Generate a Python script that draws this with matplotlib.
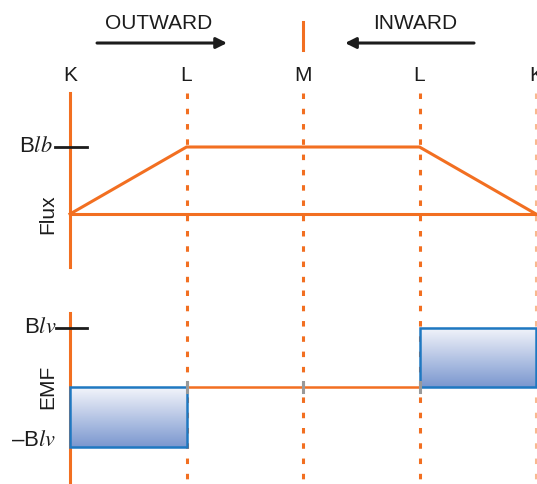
import numpy as np
import matplotlib.pyplot as plt
from matplotlib.patches import Rectangle
from matplotlib.colors import LinearSegmentedColormap

plt.rcParams['font.family'] = ['Liberation Sans', 'DejaVu Sans']
plt.rcParams['mathtext.fontset'] = 'stix'

# data
pos_x = [0, 1, 2, 3, 4]
pos_labels = ['K', 'L', 'M', 'L', 'K']
flux_x = [0, 1, 3, 4]
flux_y = [0, 1, 1, 0]
emf_segments = [(0, 1, -1), (1, 3, 0), (3, 4, 1)]  # x start, x end, EMF level

orange = '#f26f21'
blue_edge = '#1f78c1'
ink = '#1c1c1c'
fs = 15

fig = plt.figure(figsize=(5.37, 4.84), dpi=100)
ax1 = fig.add_axes([0, 194/484, 1, 290/484])
ax2 = fig.add_axes([0, 0, 1, 194/484])

xl = (-70/116.5, 4 + 1/116.5)
y1 = (-(290-214)/67, 214/67)
y2 = (-(484-387)/59.5, (387-290)/59.5)

# dotted lines
for x in pos_x[1:]:
    c = orange if x < 4 else '#f9b98f'
    ax1.plot([x, x], [1.806, y1[0]], color=c, lw=2.2, dashes=(1.8, 3.2), zorder=1)
    ax2.plot([x, x], [y2[1], y2[0]], color=c, lw=2.2, dashes=(1.8, 3.2), zorder=1)

# K solid lines
ax1.plot([0, 0], [1.806, -0.791], color=orange, lw=2.2)
ax2.plot([0, 0], [1.244, y2[0]], color=orange, lw=2.2)
# M marker
ax1.plot([2, 2], [2.866, 2.448], color=orange, lw=2.2)

# labels
for x, lab in zip(pos_x, pos_labels):
    ax1.text(x, 2.06, lab, ha='center', va='center', fontsize=fs, color=ink)

# arrows
ax1.annotate('', xy=(1.348, 2.552), xytext=(0.232, 2.552),
             arrowprops=dict(arrowstyle='-|>', color=ink, lw=2.2, mutation_scale=16,
                             shrinkA=0, shrinkB=0))
ax1.annotate('', xy=(2.361, 2.552), xytext=(3.468, 2.552),
             arrowprops=dict(arrowstyle='-|>', color=ink, lw=2.2, mutation_scale=16,
                             shrinkA=0, shrinkB=0))
ax1.text(0.76, 2.836, 'OUTWARD', ha='center', va='center', fontsize=fs, color=ink)
ax1.text(2.96, 2.836, 'INWARD', ha='center', va='center', fontsize=fs, color=ink)

# flux
ax1.plot([0, 4], [0, 0], color=orange, lw=2.2)
ax1.plot(flux_x, flux_y, color=orange, lw=2.2, solid_joinstyle='miter')
ax1.plot([-0.129, 0.146], [1, 1], color=ink, lw=2)
ax1.text(-0.15, 1, 'B$lb$', ha='right', va='center', fontsize=fs + 1, color=ink)
ax1.text(-0.19, 0, 'Flux', ha='center', va='center', rotation=90, fontsize=fs, color=ink)

# EMF
grad = np.linspace(0, 1, 256).reshape(-1, 1)
cmap = LinearSegmentedColormap.from_list('g', ['#f3f5fb', '#7b97cf'])
for x0, x1, lev in emf_segments:
    if lev == 0:
        ax2.plot([x0, x1], [0, 0], color=orange, lw=1.8, zorder=2)
    else:
        lo, hi = min(0, lev), max(0, lev)
        ax2.imshow(grad, extent=(x0, x1, lo, hi), cmap=cmap, aspect='auto', zorder=2)
        ax2.add_patch(Rectangle((x0, lo), x1 - x0, hi - lo, fill=False,
                                edgecolor=blue_edge, lw=1.8, zorder=3, clip_on=False))
for x in pos_x[1:4]:
    ax2.plot([x, x], [0.08, -0.08], color='#999999', lw=2.2, zorder=4)

ax2.plot([-0.12, 0.146], [1, 1], color=ink, lw=2)
ax2.text(-0.115, 1, 'B$lv$', ha='right', va='center', fontsize=fs + 1, color=ink)
ax2.text(-0.12, -0.9, '–B$lv$', ha='right', va='center', fontsize=fs + 1, color=ink)
ax2.text(-0.19, 0, 'EMF', ha='center', va='center', rotation=90, fontsize=fs, color=ink)

for a, yl in ((ax1, y1), (ax2, y2)):
    a.set_xlim(*xl)
    a.set_ylim(*yl)
    a.axis('off')

fig.savefig('out.png', dpi=100)
